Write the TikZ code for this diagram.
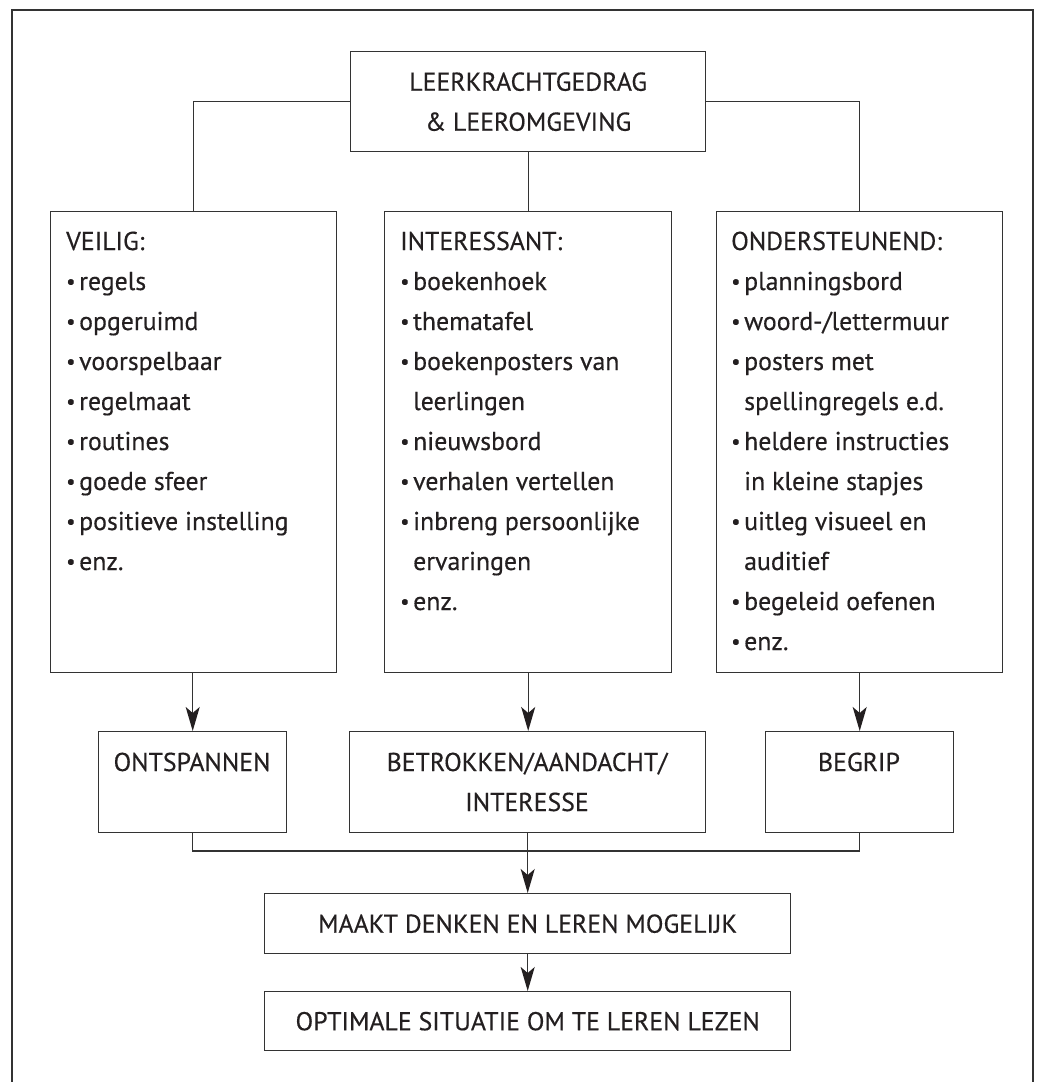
\documentclass[tikz,border=0pt]{standalone}
\usepackage{fontspec}
\usepackage{graphicx}
\setmainfont{PT Sans}[FakeBold=0.4]
\usetikzlibrary{arrows.meta}
\definecolor{ink}{HTML}{231F20}
\definecolor{rule}{HTML}{333333}
\newcommand\itm[1]{\makebox[13pt][l]{\raisebox{0.06em}{\scalebox{0.8}{•}}}#1}
\newcommand\cnt[1]{\hspace*{13pt}#1}
\newcommand\lst[1]{\parbox[t]{300pt}{\raggedright #1}}
\tikzset{
  x=1pt, y=-1pt,
  every node/.style={text=ink},
  txt/.style={font=\fontsize{25.8}{40}\selectfont, inner sep=0pt},
  boxnode/.style={draw=rule, line width=1.4pt, inner sep=0pt, anchor=north west},
  conn/.style={draw=rule, line width=1.4pt},
  arr/.style={conn, -{Stealth[length=24pt,width=14pt,inset=6pt,color=ink]}},
}
\begin{document}
\begin{tikzpicture}
\useasboundingbox (0,0) rectangle (1040,1082);
% frame
\coordinate (fbl) at (12,1082);
\coordinate (ftl) at (12,10);
\coordinate (ftr) at (1033,10);
\coordinate (fbr) at (1033,1082);
\draw[conn] (fbl) -- (ftl) -- (ftr) -- (fbr);

% top box
\node[boxnode, minimum width=355pt, minimum height=100pt] (top) at (350,51) {};
\node[txt, align=center] (topT) at (top.center) {LEERKRACHTGEDRAG\\\& LEEROMGEVING};

% three list boxes
\node[boxnode, minimum width=286pt, minimum height=461pt] (veilig) at (50,211) {};
\node[boxnode, minimum width=287pt, minimum height=461pt] (inter) at (384,211) {};
\node[boxnode, minimum width=286pt, minimum height=461pt] (onder) at (716,211) {};

\node[txt, anchor=base west] (veiligT) at (66,250) {\lst{VEILIG:\\
\itm{regels}\\
\itm{opgeruimd}\\
\itm{voorspelbaar}\\
\itm{regelmaat}\\
\itm{routines}\\
\itm{goede sfeer}\\
\itm{positieve instelling}\\
\itm{enz.}}};

\node[txt, anchor=base west] (interT) at (400,250) {\lst{INTERESSANT:\\
\itm{boekenhoek}\\
\itm{thematafel}\\
\itm{boekenposters van}\\
\cnt{leerlingen}\\
\itm{nieuwsbord}\\
\itm{verhalen vertellen}\\
\itm{inbreng persoonlijke}\\
\cnt{ervaringen}\\
\itm{enz.}}};

\node[txt, anchor=base west] (onderT) at (731,250) {\lst{ONDERSTEUNEND:\\
\itm{planningsbord}\\
\itm{woord-/lettermuur}\\
\itm{posters met}\\
\cnt{spellingregels e.d.}\\
\itm{heldere instructies}\\
\cnt{in kleine stapjes}\\
\itm{uitleg visueel en}\\
\cnt{auditief}\\
\itm{begeleid oefenen}\\
\itm{enz.}}};

% lower boxes
\node[boxnode, minimum width=188pt, minimum height=101pt] (ont) at (98,731) {};
\node[boxnode, minimum width=356pt, minimum height=101pt] (betr) at (349,731) {};
\node[boxnode, minimum width=188pt, minimum height=101pt] (beg) at (765,731) {};
\node[txt, anchor=base] (ontT) at (192,771) {ONTSPANNEN};
\node[txt, anchor=base] (betrT) at (527,771) {\parbox[t]{340pt}{\centering BETROKKEN/AANDACHT/\\INTERESSE}};
\node[txt, anchor=base] (begT) at (859,771) {BEGRIP};

% bottom boxes
\node[boxnode, minimum width=526pt, minimum height=60pt] (maakt) at (264,893) {};
\node[txt] (maaktT) at (maakt.center) {MAAKT DENKEN EN LEREN MOGELIJK};
\node[boxnode, minimum width=526pt, minimum height=59pt] (opt) at (264,991) {};
\node[txt] (optT) at (opt.center) {OPTIMALE SITUATIE OM TE LEREN LEZEN};

% connectors
\draw[conn] (top.west) -| (veilig.north);
\draw[conn] (top.east) -| (onder.north);
\draw[conn] (top.south) -- (top.south |- inter.north);
\draw[arr] (veilig.south -| ont.north) -- (ont.north);
\draw[arr] (inter.south) -- (inter.south |- betr.north);
\draw[arr] (onder.south -| beg.north) -- (beg.north);
\coordinate (j) at (527,851);
\draw[conn] (ont.south) |- (j) -| (beg.south);
\draw[arr] (betr.south) -- (maakt.north);
\draw[arr] (maakt.south) -- (opt.north);
\end{tikzpicture}
\end{document}
